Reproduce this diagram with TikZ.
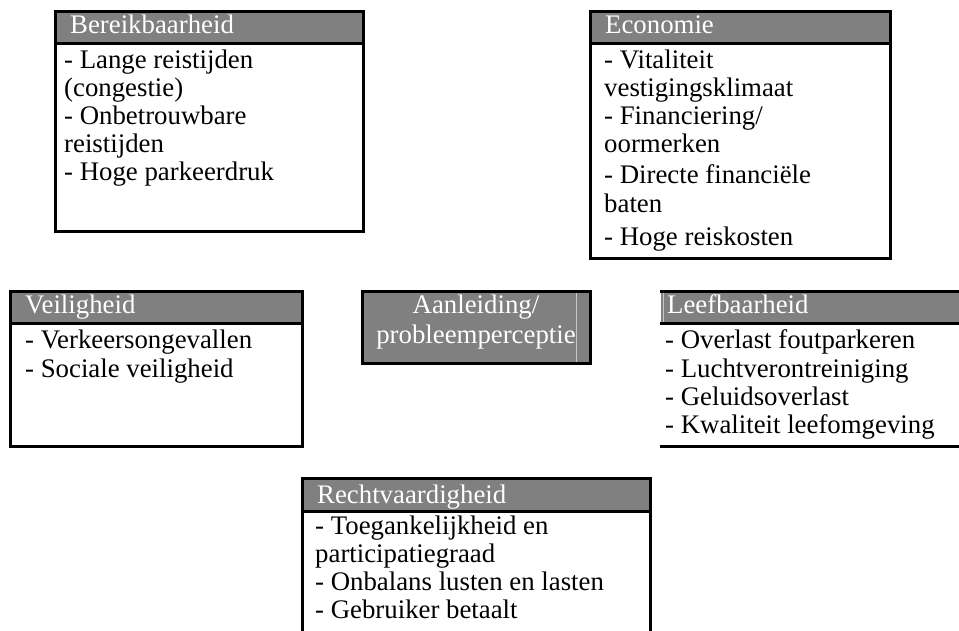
\documentclass[tikz,border=0pt]{standalone}
\usepackage{fontspec}
\setmainfont{Liberation Serif}
\definecolor{hdrgray}{HTML}{808080}
\definecolor{faint}{HTML}{C8C8C8}
\begin{document}
\begin{tikzpicture}[x=1pt,y=-1pt,
  frame/.style={draw=black, line width=3pt},
  sep/.style={draw=black, line width=3pt},
  hdr/.style={fill=hdrgray},
  htxt/.style={text=white, anchor=base west, inner sep=0pt, font=\fontsize{26.8}{28}\selectfont},
  ctxt/.style={text=white, anchor=base, inner sep=0pt, font=\fontsize{26.8}{28}\selectfont},
  btxt/.style={text=black, anchor=base west, inner sep=0pt, font=\fontsize{26.8}{28}\selectfont}]
\clip (0,0) rectangle (959,630);
\fill[white] (0,0) rectangle (959,630);

% Bereikbaarheid
\fill[hdr] (55,11) rectangle (363,43);
\draw[sep] (55,43) -- (363,43);
\draw[frame] (55,11) rectangle (363,231);
\node[htxt] (bh) at (70,33) {Bereikbaarheid};
\node[btxt] (b1) at (64,68) {- Lange reistijden};
\node[btxt] (b2) at (64,96) {(congestie)};
\node[btxt] (b3) at (64,124) {- Onbetrouwbare};
\node[btxt] (b4) at (64,152) {reistijden};
\node[btxt] (b5) at (64,180) {- Hoge parkeerdruk};

% Economie
\fill[hdr] (590,11) rectangle (890,43);
\draw[sep] (590,43) -- (890,43);
\draw[frame] (590,11) rectangle (890,258);
\node[htxt] (eh) at (605,33) {Economie};
\node[btxt] (e1) at (604,68) {- Vitaliteit};
\node[btxt] (e2) at (604,96) {vestigingsklimaat};
\node[btxt] (e3) at (604,124) {- Financiering/};
\node[btxt] (e4) at (604,152) {oormerken};
\node[btxt] (e5) at (604,183) {- Directe financiële};
\node[btxt] (e6) at (604,212) {baten};
\node[btxt] (e7) at (604,245) {- Hoge reiskosten};

% Veiligheid
\fill[hdr] (10,291) rectangle (302,323);
\draw[sep] (10,323) -- (302,323);
\draw[frame] (10,291) rectangle (302,446);
\node[htxt] (vh) at (25,313) {Veiligheid};
\node[btxt] (v1) at (25,348) {- Verkeersongevallen};
\node[btxt] (v2) at (25,377) {- Sociale veiligheid};

% Aanleiding
\fill[hdr] (362,291) rectangle (590,363);
\draw[faint, line width=0.8pt] (576,291) -- (576,363);
\draw[frame] (362,291) rectangle (590,363);
\node[ctxt] (a1) at (476,313) {Aanleiding/};
\node[ctxt] (a2) at (476,343) {probleemperceptie};

% Leefbaarheid
\fill[hdr] (661,291) rectangle (965,323);
\draw[faint, line width=0.8pt] (663,291) -- (663,323);
\draw[sep] (660,291) -- (965,291);
\draw[sep] (660,323) -- (965,323);
\draw[sep] (660,446) -- (965,446);
\node[htxt] (lh) at (667,313) {Leefbaarheid};
\node[btxt] (l1) at (665,348) {- Overlast foutparkeren};
\node[btxt] (l2) at (665,377) {- Luchtverontreiniging};
\node[btxt] (l3) at (665,405) {- Geluidsoverlast};
\node[btxt] (l4) at (665,433) {- Kwaliteit leefomgeving};

% Rechtvaardigheid
\fill[hdr] (302,478) rectangle (650,511);
\draw[sep] (302,511) -- (650,511);
\draw[frame] (650,640) -- (650,478) -- (302,478) -- (302,640);
\node[htxt] (rh) at (317,503) {Rechtvaardigheid};
\node[btxt] (r1) at (315,534) {- Toegankelijkheid en};
\node[btxt] (r2) at (315,562) {participatiegraad};
\node[btxt] (r3) at (315,590) {- Onbalans lusten en lasten};
\node[btxt] (r4) at (315,618) {- Gebruiker betaalt};
\end{tikzpicture}
\end{document}
